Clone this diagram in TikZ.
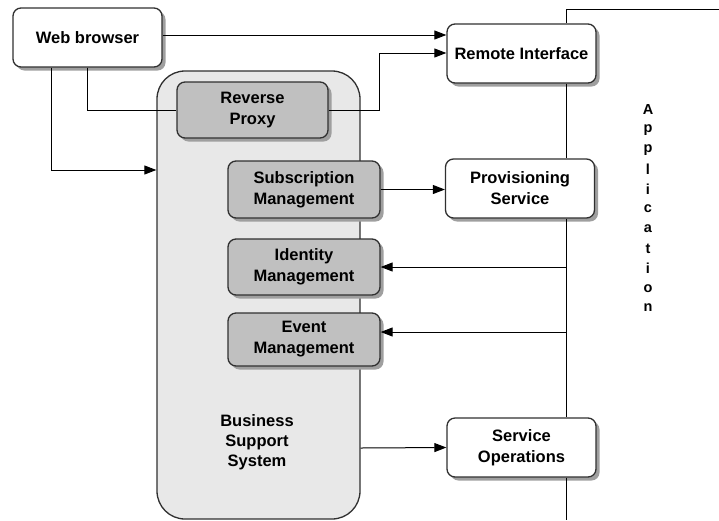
\documentclass[tikz,border=0pt]{standalone}
\usepackage{fontspec}
\setmainfont{Liberation Sans}
\usetikzlibrary{arrows.meta,shadows}
\definecolor{bssfill}{HTML}{E8E8E8}
\definecolor{compfill}{HTML}{C0C0C0}
\definecolor{edgecol}{HTML}{303030}
\tikzset{
  box/.style={draw=edgecol, line width=1.3pt, rounded corners=8pt, align=center,
    font=\fontsize{16.5}{21}\selectfont\bfseries, inner sep=0pt,
    drop shadow={shadow xshift=3.5pt, shadow yshift=-3.5pt, fill=gray!75, opacity=1}},
  whitebox/.style={box, fill=white},
  graybox/.style={box, fill=compfill},
  conn/.style={draw=black, line width=1pt},
  arr/.style={conn, -{Triangle[length=12pt,width=9pt]}},
  lbl/.style={font=\fontsize{16.5}{20}\selectfont\bfseries, align=center, inner sep=0pt}
}
\begin{document}
\begin{tikzpicture}[x=1pt,y=-1pt]
\useasboundingbox (0,0) rectangle (719,520);
% Business Support System container
\node[draw=edgecol, line width=1.3pt, fill=bssfill, rounded corners=28pt,
  minimum width=203pt, minimum height=448pt, inner sep=0pt] (bss) at (258.5,295) {};
\node[lbl] (bsstext) at (257,442) {Business\\Support\\System};
% Application line
\coordinate (apptop) at (566,9);
\coordinate (appright) at (719,9);
\coordinate (appbot) at (566,520);
% boxes
\node[whitebox, minimum width=149pt, minimum height=59pt] (web) at (87.5,37.5) {Web browser};
\node[whitebox, minimum width=149pt, minimum height=59pt] (remote) at (521.5,53.5) {Remote Interface};
\node[whitebox, minimum width=149pt, minimum height=59pt] (prov) at (520,188.5) {Provisioning\\Service};
\node[whitebox, minimum width=149pt, minimum height=59pt] (ops) at (521.5,447.5) {Service\\Operations};
\node[graybox, minimum width=151pt, minimum height=56pt] (proxy) at (252.5,110) {Reverse\\Proxy};
\node[graybox, minimum width=152pt, minimum height=57pt] (sub) at (304,189.5) {Subscription\\Management};
\node[graybox, minimum width=152pt, minimum height=56pt] (ident) at (304,267) {Identity\\Management};
\node[graybox, minimum width=152pt, minimum height=53pt] (event) at (304,339.5) {Event\\Management};
% application vertical line
\draw[conn] (appright) -- (apptop) -- (apptop |- remote.north);
\draw[conn] (remote.south -| apptop) -- (prov.north -| apptop);
\draw[conn] (prov.south -| apptop) -- (ops.north -| apptop);
\draw[conn] (ops.south -| apptop) -- (appbot);
% Application label
\foreach \c [count=\i from 0] in {A,p,p,l,i,c,a,t,i,o,n}
  \node[lbl, font=\fontsize{14.5}{16}\selectfont\bfseries] (app\i) at (648,110+19.8*\i) {\c};
% connectors
\draw[arr] (web.east |- 0,35) -- (remote.west |- 0,35);
\draw[arr] (proxy.east) -- (379,110) -- (379,53) -- (remote.west |- 0,53);
\draw[conn] (web.south -| 87,0) -- (87,110) -- (proxy.west);
\draw[arr] (web.south -| 51,0) -- (51,170) -- (bss.west |- 0,170);
\draw[arr] (sub.east) -- (prov.west |- sub.east);
\draw[arr] (566,267) -- (ident.east);
\draw[arr] (566,332) -- (event.east |- 0,332);
\draw[arr] (bss.east |- 0,448) -- (ops.west);
\end{tikzpicture}
\end{document}
